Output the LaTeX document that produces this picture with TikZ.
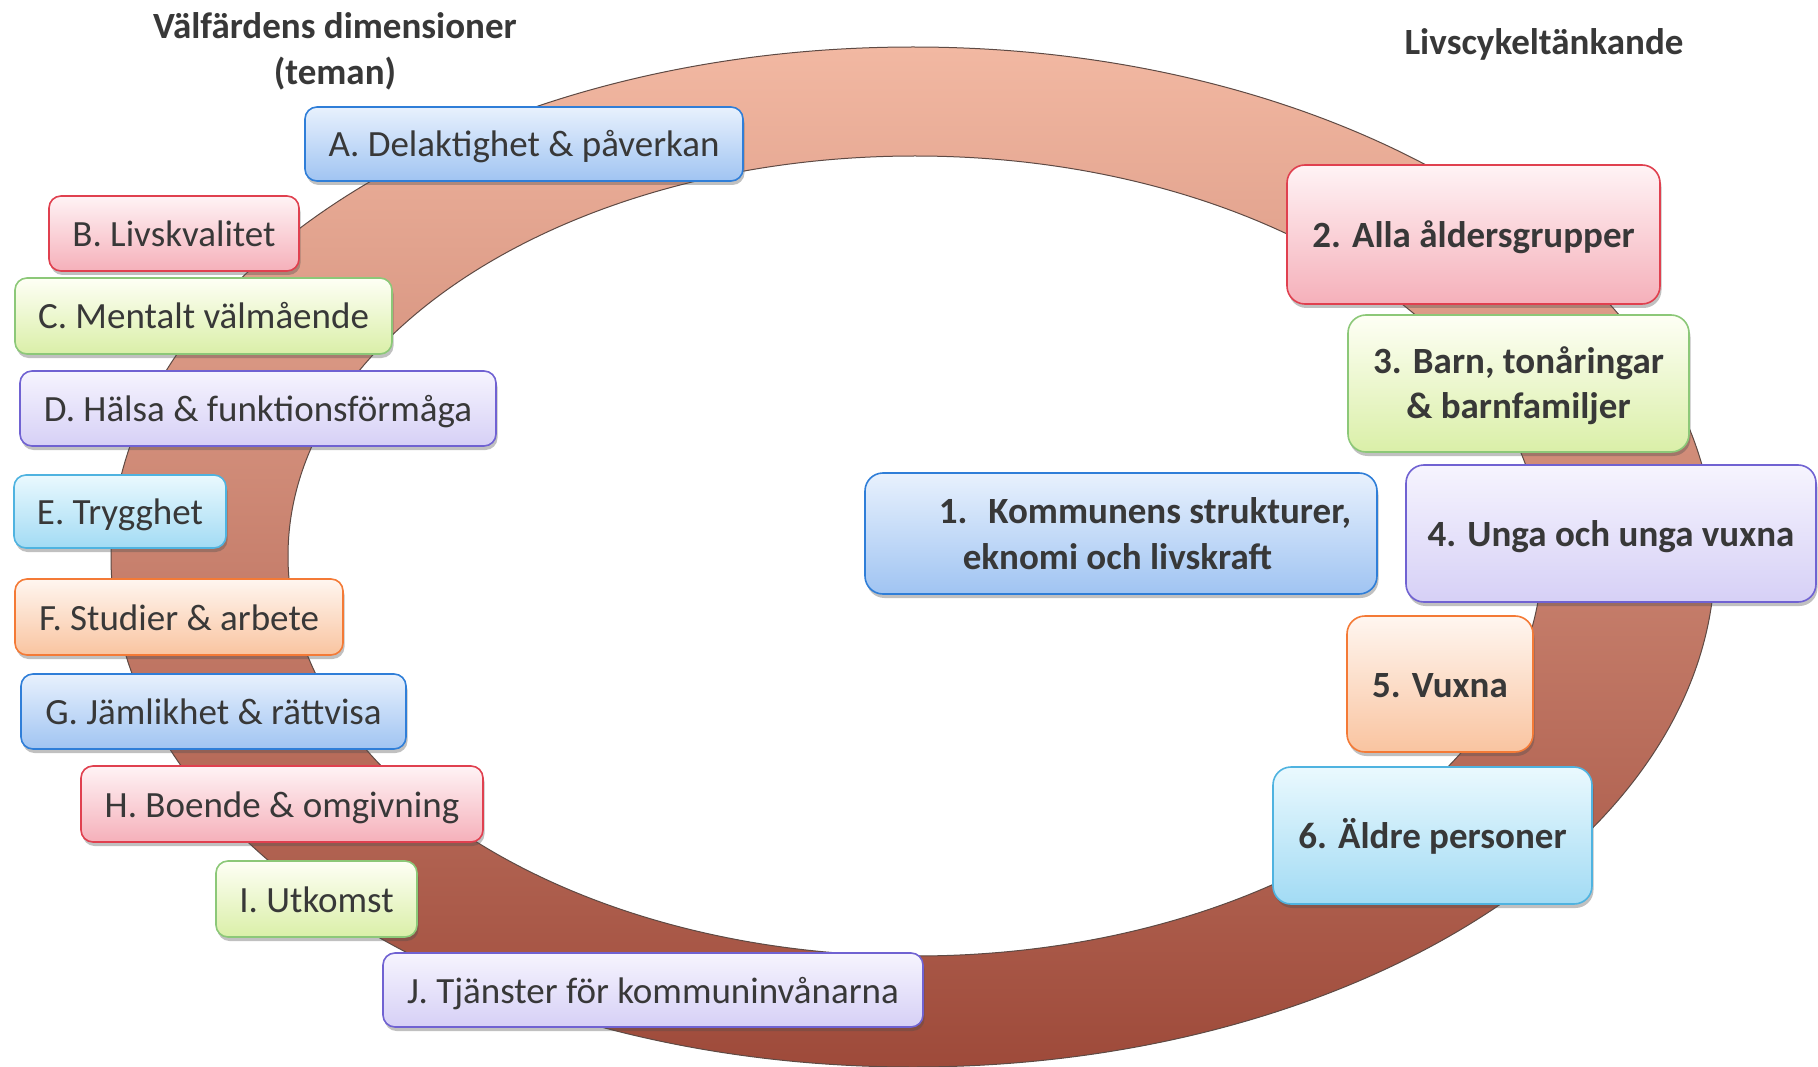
\documentclass[tikz,border=0pt]{standalone}
\usepackage{fontspec}
\setmainfont{Carlito}
\usetikzlibrary{shadows}
\definecolor{txt}{HTML}{383838}
\definecolor{ringTop}{HTML}{F2B8A2}
\definecolor{ringMid}{HTML}{D98B6E}
\definecolor{ringBot}{HTML}{9E4A3A}
\definecolor{ringLine}{HTML}{5E4A44}
% box colours: t = top, b = bottom, d = border
\definecolor{tBlue}{HTML}{E8F1FD}\definecolor{bBlue}{HTML}{A0C4F2}\definecolor{dBlue}{HTML}{2F7ED8}
\definecolor{tPink}{HTML}{FFF3F5}\definecolor{bPink}{HTML}{F5B0BA}\definecolor{dPink}{HTML}{E0404F}
\definecolor{tGreen}{HTML}{FEFFF5}\definecolor{bGreen}{HTML}{DAEFA8}\definecolor{dGreen}{HTML}{8CC878}
\definecolor{tLav}{HTML}{F6F4FE}\definecolor{bLav}{HTML}{D6D0F6}\definecolor{dLav}{HTML}{7062D2}
\definecolor{tCyan}{HTML}{EAF9FE}\definecolor{bCyan}{HTML}{A2DBF4}\definecolor{dCyan}{HTML}{4FB3E0}
\definecolor{tPeach}{HTML}{FFF6F0}\definecolor{bPeach}{HTML}{F9C4A0}\definecolor{dPeach}{HTML}{F47A36}
\begin{document}
\begin{tikzpicture}[x=1pt,y=-1pt,
  tbox/.style={draw, line width=1.6pt, rounded corners=12pt, inner sep=0pt,
    text=txt, font=\fontsize{37}{44}\selectfont, align=center,
    drop shadow={shadow xshift=1.5pt, shadow yshift=-4pt, opacity=0.35, fill=black!70}},
  one/.style={text height=30pt, text depth=4pt},
  bbox/.style={tbox, rounded corners=18pt, font=\fontsize{37}{46}\selectfont\bfseries},
  title/.style={text=txt, font=\fontsize{37}{46}\selectfont\bfseries, align=center, inner sep=0pt},
  cBlue/.style={draw=dBlue, top color=tBlue, bottom color=bBlue},
  cPink/.style={draw=dPink, top color=tPink, bottom color=bPink},
  cGreen/.style={draw=dGreen, top color=tGreen, bottom color=bGreen},
  cLav/.style={draw=dLav, top color=tLav, bottom color=bLav},
  cCyan/.style={draw=dCyan, top color=tCyan, bottom color=bCyan},
  cPeach/.style={draw=dPeach, top color=tPeach, bottom color=bPeach},
]
\useasboundingbox (0,0) rectangle (1818,1067);
\fill[white] (0,0) rectangle (1818,1067);

% ring
\shade[even odd rule, top color=ringTop, middle color=ringMid, bottom color=ringBot]
  (913,557) ellipse [x radius=802, y radius=510]
  (915,556) ellipse [x radius=627, y radius=400];
\draw[ringLine, line width=1pt] (913,557) ellipse [x radius=802, y radius=510];
\draw[ringLine, line width=1pt] (915,556) ellipse [x radius=627, y radius=400];

% titles
\node[title] (tL) at (335,51.5) {Välfärdens dimensioner\\(teman)};
\node[title] (tR) at (1544,44.5) {Livscykeltänkande};

% left column
\node[tbox, one, cBlue,  minimum width=438, minimum height=74] (A) at (524,144) {A. Delaktighet \& påverkan};
\node[tbox, one, cPink,  minimum width=250, minimum height=75] (B) at (174,233.5) {B. Livskvalitet};
\node[tbox, one, cGreen, minimum width=377, minimum height=76] (C) at (203.5,316) {C. Mentalt välmående};
\node[tbox, one, cLav,   minimum width=476, minimum height=75] (D) at (258,408.5) {D. Hälsa \& funktionsförmåga};
\node[tbox, one, cCyan,  minimum width=212, minimum height=73] (E) at (120,511.5) {E. Trygghet};
\node[tbox, one, cPeach, minimum width=328, minimum height=76] (F) at (179,617) {F. Studier \& arbete};
\node[tbox, one, cBlue,  minimum width=385, minimum height=75] (G) at (213.5,711.5) {G. Jämlikhet \& rättvisa};
\node[tbox, one, cPink,  minimum width=402, minimum height=76] (H) at (282,804) {H. Boende \& omgivning};
\node[tbox, one, cGreen, minimum width=201, minimum height=76] (I) at (316.5,899) {I. Utkomst};
\node[tbox, one, cLav,   minimum width=540, minimum height=74] (J) at (653,990) {J. Tjänster för kommuninvånarna};

% right column
\node[bbox, cBlue,  minimum width=512, minimum height=121, align=left] (N1) at (1121,533.5)
  {\hspace*{48pt}1.\hspace{21pt}Kommunens strukturer,\\\hspace*{72pt}eknomi och livskraft};
\node[bbox, one, cPink,  minimum width=373, minimum height=139] (N2) at (1473.5,234.5) {2. Alla åldersgrupper};
\node[bbox, cGreen, minimum width=341, minimum height=137] (N3) at (1518.5,383.5)
  {\raisebox{-3.3pt}[\height][\depth]{\begin{tabular}{@{}c@{}}3. Barn, tonåringar\\\& barnfamiljer\end{tabular}}};
\node[bbox, one, cLav,   minimum width=410, minimum height=137] (N4) at (1611,533.5) {4. Unga och unga vuxna};
\node[bbox, one, cPeach, minimum width=186, minimum height=136] (N5) at (1440,684) {5. Vuxna};
\node[bbox, one, cCyan,  minimum width=319, minimum height=137] (N6) at (1432.5,835.5) {6. Äldre personer};
\end{tikzpicture}
\end{document}
